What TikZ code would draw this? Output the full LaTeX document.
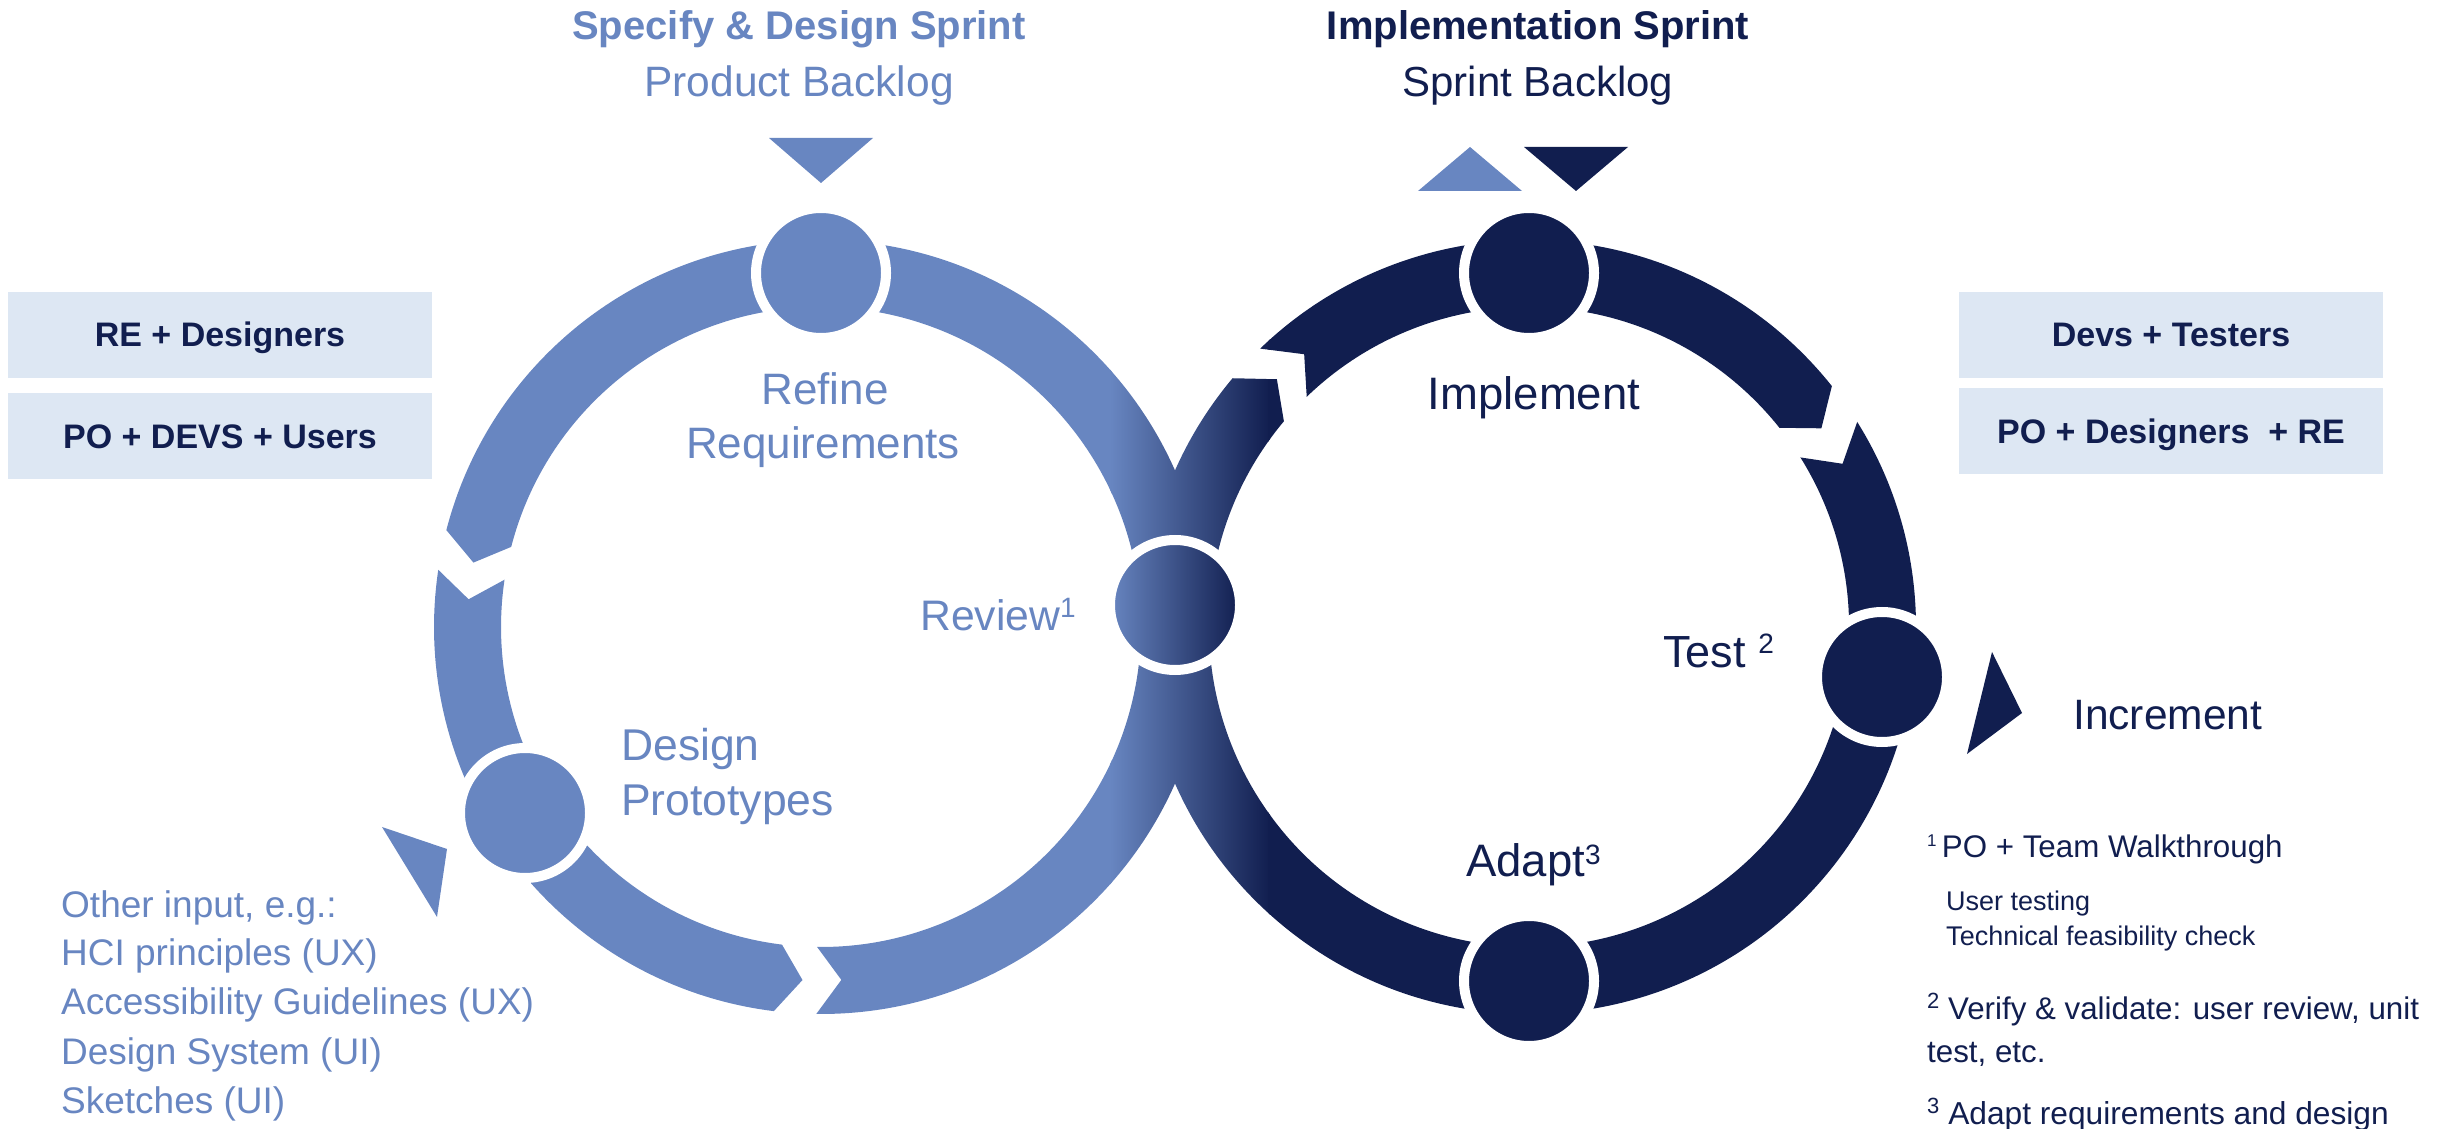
\documentclass[tikz,border=0pt]{standalone}
\usepackage{fontspec}
\setmainfont{Liberation Sans}
\definecolor{lightc}{HTML}{6886C1}
\definecolor{darkc}{HTML}{111E4F}
\definecolor{boxc}{HTML}{DDE7F3}
% ring piece: cx, cy, lo, hi, lo-mid angle, hi-mid angle
\newcommand\ringpath[6]{([shift={(#1,#2)}]#3:387) arc[start angle=#3, end angle=#4, radius=387] -- ([shift={(#1,#2)}]#6:353.5) -- ([shift={(#1,#2)}]#4:320) arc[start angle=#4, end angle=#3, radius=320] -- ([shift={(#1,#2)}]#5:353.5) -- cycle}
\newcommand\ringfill[6]{%
  \begin{scope}
    \clip \ringpath{#1}{#2}{#3}{#4}{#5}{#6};
    \fill[lightc] (0,0) rectangle (1112,1128);
    \shade[left color=lightc, right color=darkc] (1110,0) rectangle (1270,1128);
    \fill[darkc] (1268,0) rectangle (2448,1128);
  \end{scope}}
\newcommand\supmark[3]{\raisebox{#2pt}{\fontsize{#1}{#1}\selectfont #3}}
\begin{document}
\begin{tikzpicture}[x=1pt,y=1pt,
  stage/.style={circle, draw=white, line width=10pt, minimum size=130pt, inner sep=0pt},
  box/.style={rectangle, fill=boxc, minimum width=424pt, minimum height=86pt, inner sep=0pt,
    text height=24pt, text depth=0pt, text=darkc, font=\fontsize{34}{40}\selectfont\bfseries},
  lbl/.style={inner sep=0pt}]
\useasboundingbox (0,0) rectangle (2448,1128);

% rings
\ringfill{821}{501}{-90.7}{165.5}{-86.7}{169.5}
\ringfill{821}{501}{171.5}{263}{175.5}{267}
\ringfill{1529}{501}{38.5}{134}{34.2}{129.5}
\ringfill{1529}{501}{-220}{32}{-224.5}{27.5}

% stage nodes
\node[stage, fill=lightc] (refine) at (821,855) {};
\node[stage, fill=lightc] (design) at (525,315) {};
\node[stage, left color=lightc, right color=darkc] (review) at (1175,523) {};
\node[stage, fill=darkc] (implement) at (1529,855) {};
\node[stage, fill=darkc] (test) at (1882,451) {};
\node[stage, fill=darkc] (adapt) at (1529,147) {};

% triangles
\fill[lightc] (769,990) -- (873,990) -- (821,945) -- cycle;
\fill[lightc] (1418,937) -- (1522,937) -- (1470,981) -- cycle;
\fill[darkc] (1524,981) -- (1628,981) -- (1576,937) -- cycle;
\fill[darkc] (1992,476) -- (2022,415) -- (1967,374) -- cycle;
\fill[lightc] (382,301) -- (447,279) -- (437,211) -- cycle;

% boxes
\node[box] (b1) at (220,793) {RE + Designers};
\node[box] (b2) at (220,691.5) {PO + DEVS + Users};
\node[box] (b3) at (2171,793) {Devs + Testers};
\node[box] (b4) at (2171,696.5) {PO + Designers~ + RE};

% headings
\node[lbl, anchor=base, text=lightc, font=\fontsize{40}{48}\selectfont\bfseries] (h1) at (799,1088) {Specify \& Design Sprint};
\node[lbl, anchor=base, text=lightc, font=\fontsize{42.5}{50}\selectfont] (h1b) at (799,1031) {Product Backlog};
\node[lbl, anchor=base, text=darkc, font=\fontsize{40}{48}\selectfont\bfseries] (h2) at (1538,1088) {Implementation Sprint};
\node[lbl, anchor=base, text=darkc, font=\fontsize{42}{50}\selectfont] (h2b) at (1538,1031) {Sprint Backlog};

% stage labels
\node[lbl, anchor=base, text=lightc, font=\fontsize{44}{50}\selectfont] (t1) at (825,723) {Refine};
\node[lbl, anchor=base, text=lightc, font=\fontsize{44}{50}\selectfont] (t2) at (823,669) {Requirements};
\node[lbl, anchor=base west, text=lightc, font=\fontsize{42.7}{50}\selectfont] (t3) at (920,497) {Review\supmark{28}{13}{1}};
\node[lbl, anchor=base west, text=lightc, font=\fontsize{44.5}{50}\selectfont] (t4) at (621,368) {Design};
\node[lbl, anchor=base west, text=lightc, font=\fontsize{44.5}{50}\selectfont] (t5) at (621,313) {Prototypes};
\node[lbl, anchor=base, text=darkc, font=\fontsize{45.5}{50}\selectfont] (t6) at (1534,718) {Implement};
\node[lbl, anchor=base west, text=darkc, font=\fontsize{45}{50}\selectfont] (t7) at (1663,460) {Test \supmark{28}{14}{2}};
\node[lbl, anchor=base west, text=darkc, font=\fontsize{45.5}{50}\selectfont] (t8) at (1466,252) {Adapt\supmark{28}{12}{3}};
\node[lbl, anchor=base west, text=darkc, font=\fontsize{42.5}{50}\selectfont] (t9) at (2073,399) {Increment};

% other input
\begin{scope}[every node/.style={lbl, anchor=base west, text=lightc, font=\fontsize{37}{44}\selectfont}]
\node (o1) at (61,211) {Other input, e.g.:};
\node (o2) at (61,163) {HCI principles (UX)};
\node (o3) at (61,114) {Accessibility Guidelines (UX)};
\node (o4) at (61,64) {Design System (UI)};
\node (o5) at (61,15) {Sketches (UI)};
\end{scope}

% footnotes
\begin{scope}[every node/.style={lbl, anchor=base west, text=darkc}]
\node[font=\fontsize{31.3}{36}\selectfont] (f1) at (1927,271) {\supmark{17}{11}{1}\,PO + Team Walkthrough};
\node[font=\fontsize{27}{32}\selectfont] (f1a) at (1946,218) {User testing};
\node[font=\fontsize{27}{32}\selectfont] (f1b) at (1946,183) {Technical feasibility check};
\node[font=\fontsize{31.3}{36}\selectfont] (f2) at (1927,109) {\supmark{22}{11}{2} Verify \& validate: user review, unit};
\node[font=\fontsize{31.3}{36}\selectfont] (f2a) at (1927,66) {test, etc.};
\node[font=\fontsize{31.7}{36}\selectfont] (f3) at (1927,4) {\supmark{22}{11}{3} Adapt requirements and design};
\end{scope}
\end{tikzpicture}
\end{document}
